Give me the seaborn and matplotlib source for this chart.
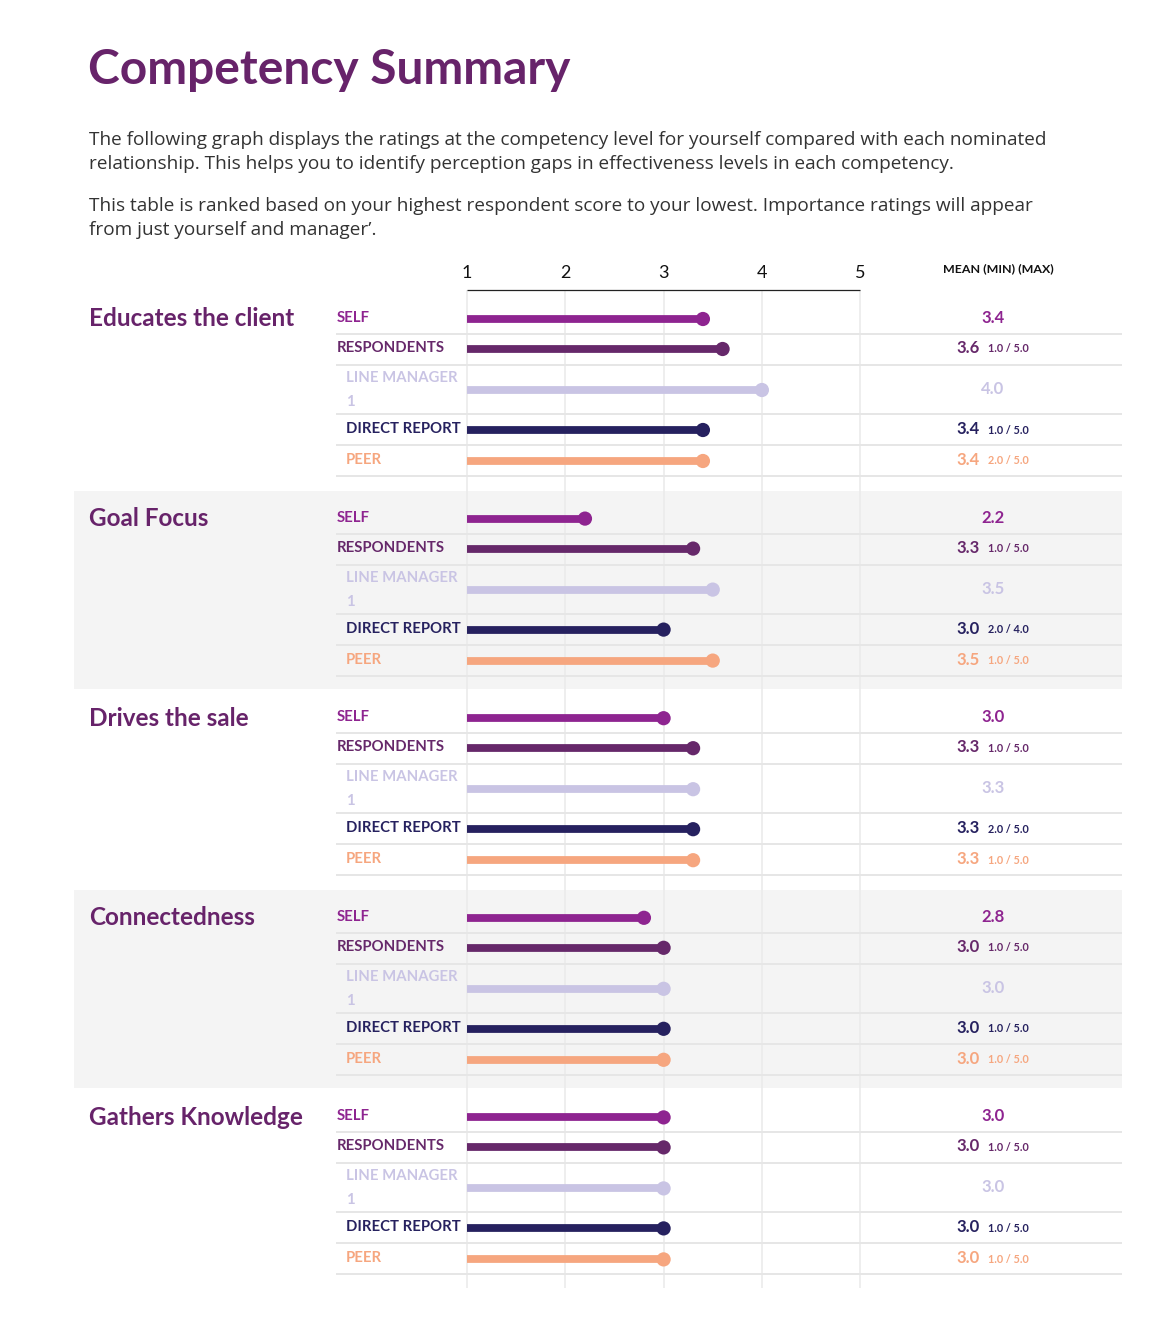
import numpy as np
import pandas as pd
import matplotlib
matplotlib.use("Agg")
import matplotlib.pyplot as plt
import seaborn as sns

sns.set_theme(style="white")
plt.rcParams['font.family'] = ['Lato', 'DejaVu Sans']

# ---- data ----
competencies = ["Educates the client", "Goal Focus", "Drives the sale",
                "Connectedness", "Gathers Knowledge"]
roles = ["SELF", "RESPONDENTS", "LINE MANAGER", "DIRECT REPORT", "PEER"]
role_labels = ["SELF", "RESPONDENTS", "LINE MANAGER\n1", "DIRECT REPORT", "PEER"]

self_mean = [3.4, 2.2, 3.0, 2.8, 3.0]
resp_mean = [3.6, 3.3, 3.3, 3.0, 3.0]
lm_mean = [4.0, 3.5, 3.3, 3.0, 3.0]
dr_mean = [3.4, 3.0, 3.3, 3.0, 3.0]
peer_mean = [3.4, 3.5, 3.3, 3.0, 3.0]

resp_min = [1.0, 1.0, 1.0, 1.0, 1.0]
resp_max = [5.0, 5.0, 5.0, 5.0, 5.0]
dr_min = [1.0, 2.0, 2.0, 1.0, 1.0]
dr_max = [5.0, 4.0, 5.0, 5.0, 5.0]
peer_min = [2.0, 1.0, 1.0, 1.0, 1.0]
peer_max = [5.0, 5.0, 5.0, 5.0, 5.0]

scale_ticks = [1, 2, 3, 4, 5]

role_colors = {
    "SELF": "#8e2490",
    "RESPONDENTS": "#66286a",
    "LINE MANAGER": "#c9c4e4",
    "DIRECT REPORT": "#26215f",
    "PEER": "#f6a67f",
}
PURPLE = "#67236a"
TEXT = "#333333"
GRID = "#ebebeb"
BODY_FONT = ['Open Sans', 'DejaVu Sans']

# ---- layout (pixels) ----
W, H = 1154, 1337
X1_PX, PX_PER_UNIT = 467, 98.3
BLOCK0, BLOCK_STEP = 319, 199.6
ROW_OFF = [0, 30, 71, 111, 142]
SEP_OFF = [15, 46, 95, 126, 157]


def px(xp):
    """pixel column -> score coordinate"""
    return 1 + (xp - X1_PX) / PX_PER_UNIT


# long table built from the arrays
means = [self_mean, resp_mean, lm_mean, dr_mean, peer_mean]
mins = [None, resp_min, None, dr_min, peer_min]
maxs = [None, resp_max, None, dr_max, peer_max]
rows = []
for ci, comp in enumerate(competencies):
    for ri, role in enumerate(roles):
        rows.append({
            "competency": comp, "role": role, "ci": ci, "ri": ri,
            "mean": means[ri][ci],
            "min": mins[ri][ci] if mins[ri] else np.nan,
            "max": maxs[ri][ci] if maxs[ri] else np.nan,
            "y": BLOCK0 + ci * BLOCK_STEP + ROW_OFF[ri],
        })
df = pd.DataFrame(rows)

fig = plt.figure(figsize=(W / 100, H / 100), dpi=100)
ax = fig.add_axes([0, 0, 1, 1])

# grey bands behind alternate competencies
for ci in range(len(competencies)):
    if ci % 2 == 1:
        top = BLOCK0 + ci * BLOCK_STEP - 28
        ax.fill_between([px(74), px(1122)], top, top + 198, color="#f4f4f4", zorder=0, lw=0)

# vertical gridlines + top axis
ax.vlines(scale_ticks, 290, 1288, color=GRID, lw=1.2, zorder=1)
ax.hlines(290, scale_ticks[0], scale_ticks[-1], color="#222222", lw=0.9, zorder=2)
for t in scale_ticks:
    ax.text(t, 273, str(t), ha="center", va="center", fontsize=13, color="#111111")
ax.text(px(998), 269, "MEAN (MIN) (MAX)", ha="center", va="center",
        fontsize=8.9, fontweight="bold", color="#111111")

# row separators
for ci in range(len(competencies)):
    for off in SEP_OFF:
        y = BLOCK0 + ci * BLOCK_STEP + off
        ax.hlines(y, px(336), px(1122), color="#e6e6e6", lw=1.4, zorder=1)

# bars and end dots
ax.hlines(df["y"], 1, df["mean"], colors=[role_colors[r] for r in df["role"]],
          lw=5.6, zorder=3)
sns.scatterplot(data=df, x="mean", y="y", hue="role", palette=role_colors,
                s=105, linewidth=0, legend=False, ax=ax, zorder=4)
ax.set_xlim(px(0), px(W))
ax.set_ylim(H, 0)
ax.axis("off")

# labels
for ci, comp in enumerate(competencies):
    ax.text(px(89), BLOCK0 + ci * BLOCK_STEP, comp, ha="left", va="center",
            fontsize=17.5, fontweight="bold", color=PURPLE)

for _, r in df.iterrows():
    col = role_colors[r["role"]]
    lx = px(337) if r["ri"] < 2 else px(346)
    if r["ri"] == 2:
        ax.text(lx, r["y"] - 12, "LINE MANAGER", ha="left", va="center",
                fontsize=10.7, fontweight="bold", color=col)
        ax.text(lx, r["y"] + 12, "1", ha="left", va="center",
                fontsize=10.7, fontweight="bold", color=col)
    else:
        ax.text(lx, r["y"] - 1, role_labels[r["ri"]], ha="left", va="center",
                fontsize=10.7, fontweight="bold", color=col)

    if np.isnan(r["min"]):
        ax.text(px(993), r["y"] - 1, f"{r['mean']:.1f}", ha="center", va="center",
                fontsize=12, fontweight="bold", color=col)
    else:
        ax.text(px(980), r["y"] - 1, f"{r['mean']:.1f}", ha="right", va="center",
                fontsize=12, fontweight="bold", color=col)
        ax.text(px(988), r["y"], f"{r['min']:.1f} / {r['max']:.1f}", ha="left",
                va="center", fontsize=7.8, fontweight="bold", color=col)

# header text
ax.text(px(88), 70, "Competency Summary", ha="left", va="center",
        fontsize=34.5, fontweight="bold", color=PURPLE)
intro = [
    (140, "The following graph displays the ratings at the competency level for yourself compared with each nominated"),
    (164, "relationship. This helps you to identify perception gaps in effectiveness levels in each competency."),
    (206, "This table is ranked based on your highest respondent score to your lowest. Importance ratings will appear"),
    (230, "from just yourself and manager\u2019."),
]
for y, line in intro:
    ax.text(px(89), y, line, ha="left", va="center", fontsize=13.7,
            color=TEXT, family=BODY_FONT)

fig.savefig("out.png", dpi=100)
